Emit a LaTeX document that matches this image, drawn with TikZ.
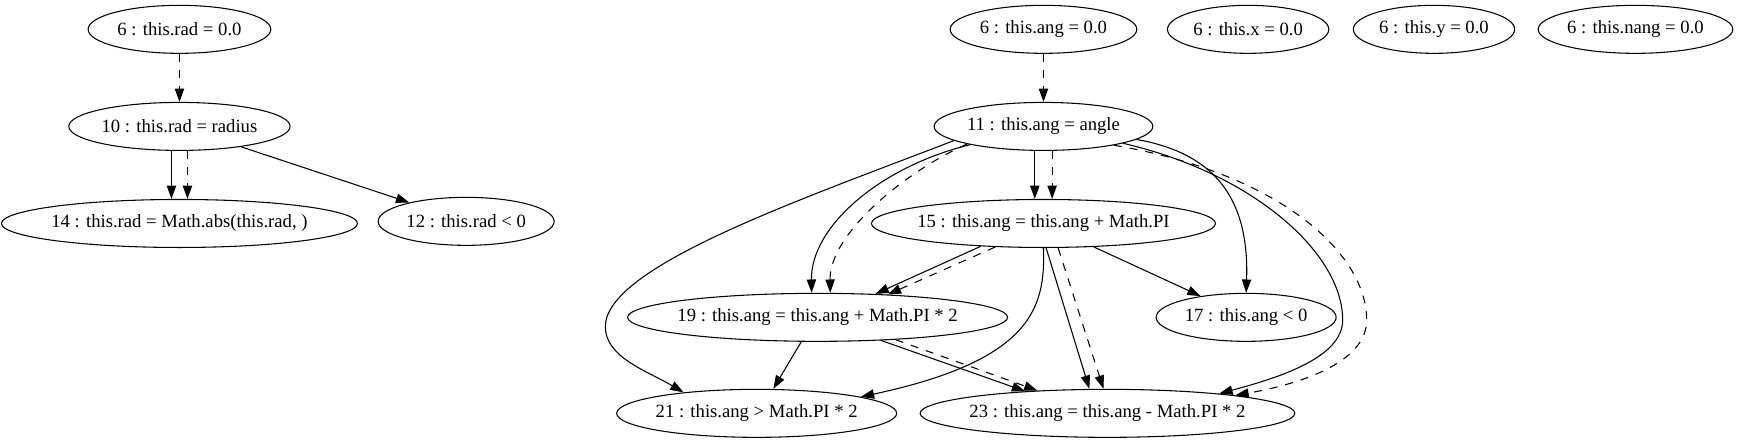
\documentclass[tikz,border=0pt]{standalone}
\usepackage{fontspec}
\setmainfont{Liberation Serif}
\usepackage{tikz}
\usetikzlibrary{shapes.geometric, arrows.meta, positioning}
\tikzstyle{stmt} = [ellipse, draw, line width=0.8pt, text centered, inner xsep=-20pt, inner ysep=0pt, minimum height=36pt, font=\fontsize{14pt}{16pt}\selectfont]
\tikzstyle{arrow} = [line width=0.8pt, ->, >={Triangle[length=10pt, width=7pt]}]
\tikzstyle{dep} = [arrow, dash pattern=on 6pt off 6pt]

\begin{document}
\begin{tikzpicture}[x=1pt, y=1pt, node distance=36pt]
  \useasboundingbox (0,0) rectangle (1303.5,-332.25);

  \node (rad6) [stmt, minimum width=137pt] at (134.6,-22) {6 : this.rad = 0.0};
  \node (rad10) [stmt, minimum width=166pt, below=of rad6] {10 : this.rad = radius};
  \node (rad14) [stmt, minimum width=267pt, below=of rad10] {14 : this.rad = Math.abs(this.rad, )};
  \node (rad12) [stmt, minimum width=132pt] at (349.6,-166) {12 : this.rad < 0};

  \node (ang6) [stmt, minimum width=140pt] at (782.6,-22) {6 : this.ang = 0.0};
  \node (ang11) [stmt, minimum width=164pt, below=of ang6] {11 : this.ang = angle};
  \node (ang15) [stmt, minimum width=258pt, below=of ang11] {15 : this.ang = this.ang + Math.PI};
  \node (ang19) [stmt, minimum width=285pt] at (613.2,-238) {19 : this.ang = this.ang + Math.PI * 2};
  \node (ang17) [stmt, minimum width=135pt] at (934.6,-238) {17 : this.ang < 0};
  \node (ang21) [stmt, minimum width=210pt] at (567.5,-310) {21 : this.ang > Math.PI * 2};
  \node (ang23) [stmt, minimum width=281pt] at (830.6,-310) {23 : this.ang = this.ang - Math.PI * 2};

  \node (x6) [stmt, minimum width=121pt] at (936.1,-22) {6 : this.x = 0.0};
  \node (y6) [stmt, minimum width=121pt] at (1075.5,-22) {6 : this.y = 0.0};
  \node (nang6) [stmt, minimum width=146pt] at (1226.6,-22) {6 : this.nang = 0.0};

  \draw [dep] (rad6) -- (rad10);
  \draw [arrow] ([xshift=-6pt]rad10.south) -- ([xshift=-6pt]rad14.north);
  \draw [dep] ([xshift=6pt]rad10.south) -- ([xshift=6pt]rad14.north);
  \draw [arrow] (rad10) -- (rad12);

  \draw [dep] (ang6) -- (ang11);
  \draw [arrow] ([xshift=-6.5pt]ang11.south) -- ([xshift=-6.5pt]ang15.north);
  \draw [dep] ([xshift=6.5pt]ang11.south) -- ([xshift=6.5pt]ang15.north);

  \draw [arrow] (ang11.194) .. controls (660,-125) and (608,-170) .. ([xshift=-4.5pt]ang19.north);
  \draw [dep] (ang11.193) .. controls (680,-128) and (622,-175) .. ([xshift=9.5pt]ang19.north);
  \draw [arrow] (ang11.189) .. controls (600,-150) and (454,-200) .. (454,-245)
    .. controls (454,-268) and (485,-278) .. (ang21.164);
  \draw [arrow] (ang11.352) .. controls (912,-115) and (937,-150) .. (ang17.north);
  \draw [arrow] (ang11.348) .. controls (940,-130) and (1007,-190) .. (1007,-240)
    .. controls (1007,-268) and (960,-283) .. (ang23.10);
  \draw [dep] (ang11.345) .. controls (960,-130) and (1025,-190) .. (1025,-240)
    .. controls (1025,-272) and (975,-288) .. (ang23.8);

  \draw [arrow] (ang15.200) -- (ang19.22);
  \draw [dep] (ang15.206) -- (ang19.18);
  \draw [arrow] (ang15.335) -- (ang17.155);
  \draw [arrow] (ang15.south) .. controls (784,-230) and (775,-270) .. (ang21.9);
  \draw [arrow] ([xshift=2pt]ang15.south) -- ([xshift=-13.6pt]ang23.north);
  \draw [dep] ([xshift=11pt]ang15.south) -- ([xshift=-3pt]ang23.north);

  \draw [arrow] ([xshift=-12.3pt]ang19.south) -- ([xshift=12.5pt]ang21.north);
  \draw [arrow] (ang19.340) -- (ang23.165);
  \draw [dep] (ang19.344) -- (ang23.162);
\end{tikzpicture}
\end{document}
